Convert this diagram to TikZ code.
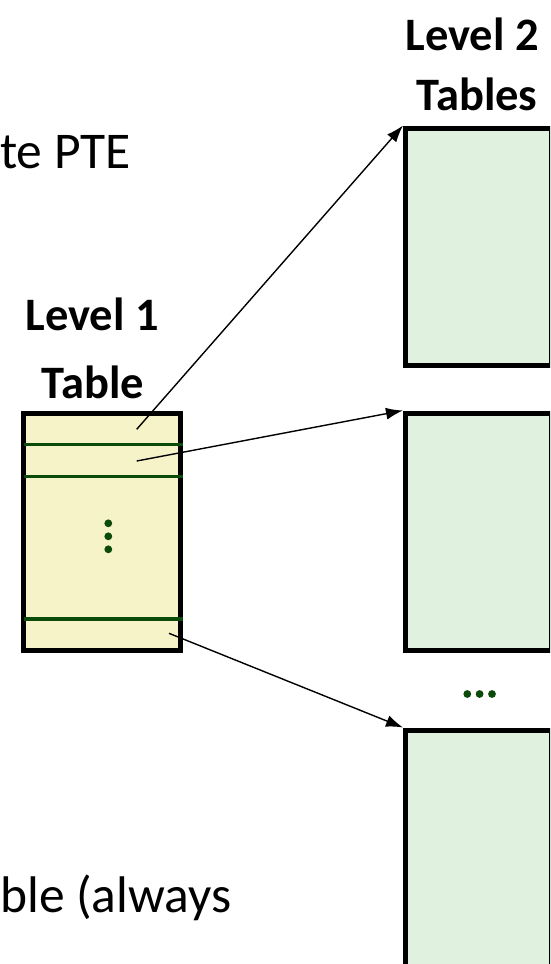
\documentclass[tikz,border=0pt]{standalone}
\usepackage{fontspec}
\setmainfont{Carlito}
\usetikzlibrary{arrows.meta}
\definecolor{tblyellow}{HTML}{F7F3C9}
\definecolor{tblgreen}{HTML}{E1F1E0}
\definecolor{rowgreen}{HTML}{0B4A0B}

\begin{document}
\begin{tikzpicture}[x=1pt, y=-1pt,
  tbl/.style={draw=black, line width=5pt, inner sep=0pt},
  lbl/.style={font=\fontsize{46.5}{56}\selectfont\bfseries, inner sep=0pt, anchor=base},
  txt/.style={font=\fontsize{51.5}{62}\selectfont, inner sep=0pt, anchor=base west},
  ptr/.style={line width=1.4pt, -{Latex[length=17pt,width=12pt]}}]
\clip (0,0) rectangle (550,964);

% Level 1 table
\node[tbl, fill=tblyellow, minimum width=157.4pt, minimum height=237.2pt] (lone) at (102,531.9) {};
\foreach \y in {444.3,476.7,619}
  \draw[rowgreen, line width=3.5pt] (24,\y) -- (183,\y);
\foreach \y in {523.3,536.3,549.3}
  \fill[rowgreen] (108.3,\y) circle (3.9pt);

% Level 2 tables
\node[tbl, fill=tblgreen, minimum width=145.5pt, minimum height=237.5pt] (ltwoa) at (478.25,246.75) {};
\node[tbl, fill=tblgreen, minimum width=145.5pt, minimum height=237pt] (ltwob) at (478.25,531.5) {};
\node[tbl, fill=tblgreen, minimum width=145.5pt, minimum height=237pt] (ltwoc) at (478.25,848.5) {};
\foreach \x in {467.3,479.6,492}
  \fill[rowgreen] (\x,694) circle (3.9pt);

% Labels
\node[lbl] (loneup) at (92,330) {Level 1};
\node[lbl] (lonelo) at (93,398) {Table};
\node[lbl] (ltwoup) at (472,50) {Level 2};
\node[lbl] (ltwolo) at (477,110) {Tables};

% Text cut off at the left
\node[txt] (ptetxt) at (0,168.3) {te PTE};
\node[txt] (alwtxt) at (0,912) {ble (always};

% Pointers from level 1 entries
\coordinate (pa) at (136.7,429.3);
\coordinate (pb) at (136.7,461);
\coordinate (pc) at (169,633.3);
\draw[ptr] (pa) -- (ltwoa.north west);
\draw[ptr] (pb) -- (ltwob.north west);
\draw[ptr] (pc) -- (ltwoc.north west);
\end{tikzpicture}
\end{document}
